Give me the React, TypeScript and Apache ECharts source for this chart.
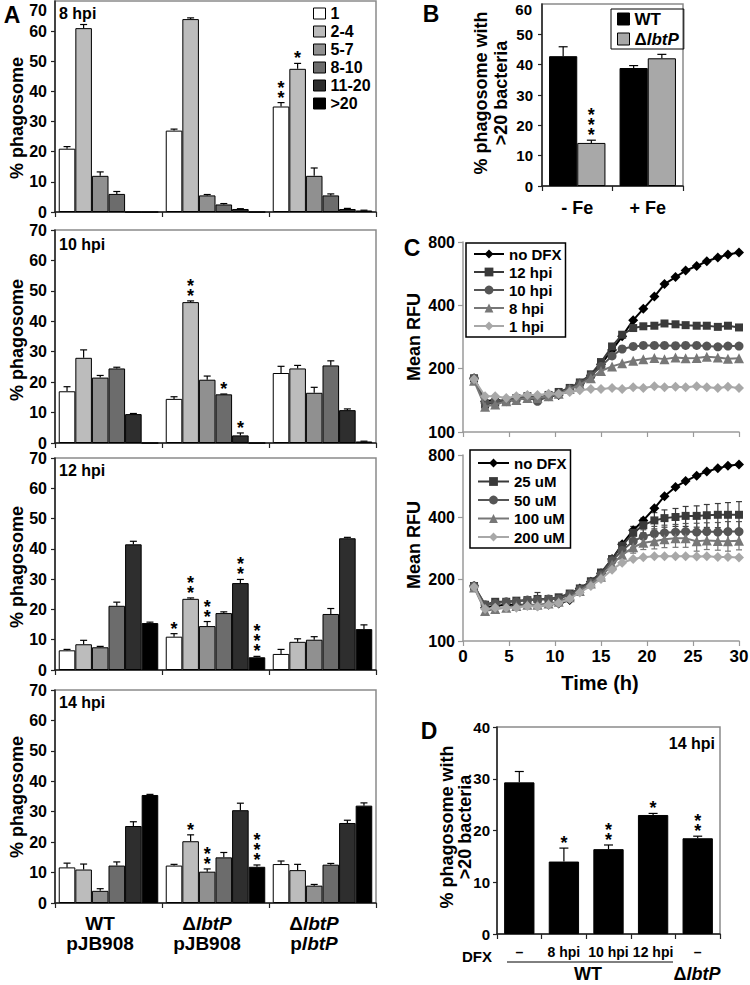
import React, { useEffect, useRef } from 'react';
import * as echarts from 'echarts';

const FONT = '"Liberation Sans", Arial, sans-serif';

// ---------- Panel A ----------
const strainGroups = ['WT pJB908', 'ΔlbtP pJB908', 'ΔlbtP plbtP'];
const strainLabels = ['{n|WT}\n{n|pJB908}', '{n|Δ}{i|lbtP}\n{n|pJB908}', '{n|Δ}{i|lbtP}\n{n|p}{i|lbtP}'];
const sizeBins = ['1', '2-4', '5-7', '8-10', '11-20', '>20'];
const binColors = ['#ffffff', '#bcbcbc', '#909090', '#6c6c6c', '#2e2e2e', '#000000'];
const hpiLabels = ['8 hpi', '10 hpi', '12 hpi', '14 hpi'];

// rows = strain groups, columns = size bins
const hpi8Values = [[21, 61, 12, 6, 0, 0], [27, 64, 5.5, 2.5, 1, 0], [35, 47.5, 12, 5.5, 1, 0.5]];
const hpi8Errors = [[0.7, 1.2, 1.3, 0.8, 0, 0], [0.5, 0.4, 0.3, 0.3, 0.1, 0], [1.3, 1.8, 2.6, 0.5, 0.2, 0.1]];
const hpi8Stars = [[0, 0, 0, 0, 0, 0], [0, 0, 0, 0, 0, 0], [2, 1, 0, 0, 0, 0]];

const hpi10Values = [[17, 28, 21.5, 24.5, 9.5, 0], [14.5, 46.3, 20.8, 16, 2.5, 0], [23, 24.5, 16.5, 25.5, 10.8, 0.5]];
const hpi10Errors = [[1.5, 2.6, 0.7, 0.4, 0.2, 0], [0.7, 0.4, 1.2, 0.1, 0.8, 0], [2.2, 1, 1.8, 1.5, 0.4, 0.1]];
const hpi10Stars = [[0, 0, 0, 0, 0, 0], [0, 2, 0, 1, 1, 0], [0, 0, 0, 0, 0, 0]];

const hpi12Values = [[6.5, 8.5, 7.5, 21.2, 41.5, 15.5], [11, 23.5, 14.5, 18.8, 28.7, 4.2], [5.3, 9.3, 10, 18.5, 43.5, 13.5]];
const hpi12Errors = [[0.3, 1.3, 0.3, 1.2, 1, 0.3], [1, 0.3, 1.5, 0.4, 1.2, 0.3], [1.5, 1, 1, 1.8, 0.3, 1.4]];
const hpi12Stars = [[0, 0, 0, 0, 0, 0], [1, 2, 2, 0, 2, 3], [0, 0, 0, 0, 0, 0]];

const hpi14Values = [[11.7, 11, 4, 12.3, 25.3, 35.5], [12.3, 20.3, 10.3, 15, 30.5, 11.9], [12.8, 10.8, 5.7, 12.6, 26.3, 32]];
const hpi14Errors = [[1.4, 1.8, 0.7, 1.2, 1.4, 0.2], [0.4, 2.1, 0.9, 1.6, 2.3, 0.6], [1, 1.9, 0.4, 0.4, 0.9, 0.9]];
const hpi14Stars = [[0, 0, 0, 0, 0, 0], [0, 1, 2, 0, 0, 3], [0, 0, 0, 0, 0, 0]];

const yTicksA = [0, 10, 20, 30, 40, 50, 60, 70];

// ---------- Panel B ----------
const feConditions = ['- Fe', '+ Fe'];
const bStrains = ['WT', 'ΔlbtP'];
const bWT = [42.8, 38.9];
const bWTErr = [3.1, 0.8];
const bMut = [14.2, 42.1];
const bMutErr = [0.9, 1.3];
const bMutStars = [3, 0];
const yTicksB = [0, 10, 20, 30, 40, 50, 60];

// ---------- Panel C ----------
const times = [1.2, 2.4, 3.5, 4.7, 5.8, 7.0, 8.1, 9.3, 10.4, 11.6, 12.7, 13.9, 15.0, 16.2, 17.3, 18.5, 19.6, 20.8, 21.9, 23.1, 24.2, 25.4, 26.5, 27.7, 28.8, 30.0];
const cTopNames = ['no DFX', '12 hpi', '10 hpi', '8 hpi', '1 hpi'];
const cTopNoDFX = [180, 140, 142, 140, 143, 145, 143, 148, 150, 158, 170, 185, 210, 245, 285, 340, 385, 440, 505, 545, 585, 615, 648, 675, 697, 713];
const cTop12 = [180, 135, 138, 140, 145, 148, 145, 150, 155, 162, 172, 188, 215, 255, 290, 312, 318, 320, 328, 325, 322, 320, 320, 316, 320, 314];
const cTop10 = [180, 138, 140, 142, 145, 147, 140, 148, 152, 160, 170, 185, 205, 230, 248, 255, 258, 258, 258, 257, 258, 258, 256, 254, 256, 256];
const cTop8 = [175, 132, 135, 140, 142, 145, 145, 148, 152, 160, 168, 180, 195, 205, 212, 218, 222, 225, 222, 226, 224, 225, 228, 226, 223, 224];
const cTop1 = [178, 148, 148, 145, 148, 150, 150, 152, 152, 155, 158, 160, 160, 162, 160, 163, 162, 165, 163, 164, 163, 165, 163, 162, 164, 162];

const cBotNames = ['no DFX', '25 uM', '50 uM', '100 uM', '200 uM'];
const cBotNoDFX = [185, 145, 148, 150, 150, 150, 148, 150, 152, 158, 180, 194, 213, 250, 295, 345, 385, 441, 505, 560, 598, 635, 665, 689, 710, 720];
const cBot25 = [185, 150, 155, 155, 157, 158, 160, 160, 163, 170, 180, 195, 215, 250, 290, 335, 365, 385, 395, 400, 405, 405, 408, 410, 410, 410];
const cBot50 = [185, 150, 152, 155, 155, 158, 158, 160, 160, 168, 178, 192, 210, 245, 275, 305, 322, 332, 335, 338, 340, 338, 340, 338, 340, 340];
const cBot100 = [182, 140, 143, 145, 148, 150, 150, 152, 155, 163, 175, 190, 205, 235, 262, 285, 300, 305, 312, 315, 315, 305, 308, 306, 305, 307];
const cBot200 = [183, 143, 145, 145, 145, 148, 147, 150, 153, 160, 172, 185, 200, 222, 240, 250, 255, 258, 258, 258, 258, 257, 258, 256, 256, 254];
const cErr25 = [0, 0, 0, 0, 0, 0, 12, 0, 0, 0, 0, 0, 0, 0, 0, 25, 30, 35, 38, 40, 45, 48, 52, 55, 60, 65];
const cErr50 = [0, 0, 0, 0, 0, 0, 0, 0, 0, 0, 0, 0, 0, 0, 0, 20, 25, 28, 30, 30, 32, 35, 35, 38, 40, 40];
const cErr100 = [0, 0, 0, 0, 0, 0, 0, 0, 0, 0, 0, 0, 0, 0, 0, 18, 22, 25, 28, 30, 30, 32, 30, 30, 32, 30];
const rfuTicks = [100, 200, 400, 800];

const lineColors = ['#000000', '#3a3a3a', '#555555', '#777777', '#a8a8a8'];
const lineSymbols = ['diamond', 'rect', 'circle', 'triangle', 'diamond'];
const lineSymbolSizes = [10, 8, 9, 10, 10];

// ---------- Panel D ----------
const dfxLabels = ['–', '8 hpi', '10 hpi', '12 hpi', '–'];
const dValues = [29.3, 14.0, 16.4, 23.0, 18.5];
const dErrors = [2.1, 2.6, 0.8, 0.3, 0.4];
const dStars = [0, 1, 2, 1, 2];

// ---------- helpers ----------
const STAR_FONT = 'bold 18px ' + FONT;

function errLine(x1: number, y1: number, x2: number, y2: number, color = '#000') {
  return { type: 'line', shape: { x1, y1, x2, y2 }, style: { stroke: color, lineWidth: 1.2 } };
}

function makeBarErr(nSeries: number, gap: number, cap: number) {
  return function (_params: any, api: any) {
    const g = api.value(0);
    const s = api.value(1);
    const v = api.value(2);
    const e = api.value(3);
    const n = api.value(4);
    const band = api.size([1, 0])[0];
    const usable = band * (1 - gap);
    const bw = usable / nSeries;
    const base = api.coord([g, v]);
    const x = base[0] - usable / 2 + (s + 0.5) * bw;
    const yTop = api.coord([g, v + e])[1];
    const children: any[] = [];
    if (e > 0) {
      children.push(errLine(x, base[1], x, yTop));
      children.push(errLine(x - cap, yTop, x + cap, yTop));
    }
    if (n > 0) {
      const stars = new Array(n).fill('*').join('\n');
      children.push({
        type: 'text',
        x,
        y: yTop,
        style: {
          text: stars,
          textAlign: 'center',
          textVerticalAlign: 'bottom',
          font: STAR_FONT,
          lineHeight: 10,
          fill: '#000',
        },
      });
    }
    return { type: 'group', children };
  };
}

function makeLineErr(color: string) {
  return function (_params: any, api: any) {
    const t = api.value(0);
    const v = api.value(1);
    const e = api.value(2);
    if (!(e > 0)) return { type: 'group', children: [] };
    const hi = api.coord([t, Math.log2((v + e) / 100)]);
    const lo = api.coord([t, Math.log2((v - e) / 100)]);
    return {
      type: 'group',
      children: [
        errLine(hi[0], hi[1], lo[0], lo[1], color),
        errLine(hi[0] - 3, hi[1], hi[0] + 3, hi[1], color),
        errLine(lo[0] - 3, lo[1], lo[0] + 3, lo[1], color),
      ],
    };
  };
}

function text(x: number, y: number, t: string, font: string, extra: any = {}) {
  return {
    type: 'text',
    x,
    y,
    rotation: extra.rotation || 0,
    style: {
      text: t,
      font,
      fill: '#000',
      textAlign: extra.align || 'center',
      textVerticalAlign: 'middle',
      rich: extra.rich,
    },
  };
}

const italicRich = (size: number) => ({
  n: { fontSize: size, fontWeight: 'bold', fontFamily: FONT, color: '#000' },
  i: { fontSize: size, fontWeight: 'bold', fontStyle: 'italic', fontFamily: FONT, color: '#000' },
});

function buildOption() {
  const grids: any[] = [];
  const xAxes: any[] = [];
  const yAxes: any[] = [];
  const series: any[] = [];
  const dark = '#222';

  const aGridRects = [
    { top: 1, height: 211 },
    { top: 230, height: 213 },
    { top: 458, height: 212 },
    { top: 690, height: 213 },
  ];
  const aSets = [
    { v: hpi8Values, e: hpi8Errors, s: hpi8Stars },
    { v: hpi10Values, e: hpi10Errors, s: hpi10Stars },
    { v: hpi12Values, e: hpi12Errors, s: hpi12Stars },
    { v: hpi14Values, e: hpi14Errors, s: hpi14Stars },
  ];

  const framed = { show: true, borderColor: '#8a8a8a', borderWidth: 1.5, backgroundColor: 'transparent' };

  aGridRects.forEach((r, p) => {
    grids.push({ left: 55, width: 321, top: r.top, height: r.height, outerBoundsMode: 'none', ...framed });
    xAxes.push({
      type: 'category',
      gridIndex: p,
      data: strainGroups,
      axisLine: { show: true, lineStyle: { color: dark, width: 1.5 } },
      axisTick: { show: true, length: 5, interval: 0, lineStyle: { color: dark, width: 1.2 } },
      axisLabel:
        p === 3
          ? {
              show: true,
              interval: 0,
              margin: 10,
              padding: [0, 17, 0, 0],
              lineHeight: 20,
              formatter: (_v: string, i: number) => strainLabels[i],
              rich: italicRich(19),
            }
          : { show: false },
      splitLine: { show: false },
    });
    yAxes.push({
      type: 'value',
      gridIndex: p,
      min: yTicksA[0],
      max: yTicksA[yTicksA.length - 1],
      interval: 10,
      axisLine: { show: true, lineStyle: { color: dark, width: 1.5 } },
      axisTick: { show: true, length: 4, lineStyle: { color: dark, width: 1.2 } },
      splitLine: { show: false },
      axisLabel: {
        fontSize: 16,
        fontWeight: 'bold',
        color: '#000',
        fontFamily: FONT,
        margin: 8,
        showMaxLabel: p !== 0,
      },
    });
    const set = aSets[p];
    sizeBins.forEach((bin, b) => {
      series.push({
        type: 'bar',
        name: bin,
        xAxisIndex: p,
        yAxisIndex: p,
        data: set.v.map((row) => row[b]),
        barGap: '0%',
        barCategoryGap: '7%',
        itemStyle: { color: binColors[b], borderColor: '#000', borderWidth: 1 },
        silent: true,
      });
    });
    const errData: number[][] = [];
    set.v.forEach((row, g) => row.forEach((val, b) => errData.push([g, b, val, set.e[g][b], set.s[g][b]])));
    series.push({
      type: 'custom',
      xAxisIndex: p,
      yAxisIndex: p,
      data: errData,
      encode: { x: 0, y: 2 },
      renderItem: makeBarErr(6, 0.07, 3.5),
      z: 5,
      silent: true,
      clip: false,
    });
  });

  // Panel B (index 4)
  grids.push({ left: 542, width: 141, top: 4, height: 182, outerBoundsMode: 'none', ...framed });
  xAxes.push({
    type: 'category',
    gridIndex: 4,
    data: feConditions,
    axisLine: { show: true, lineStyle: { color: dark, width: 1.5 } },
    axisTick: { show: true, length: 5, interval: 0, lineStyle: { color: dark, width: 1.2 } },
    axisLabel: { fontSize: 18, fontWeight: 'bold', color: '#000', fontFamily: FONT, margin: 13 },
  });
  yAxes.push({
    type: 'value',
    gridIndex: 4,
    min: yTicksB[0],
    max: yTicksB[yTicksB.length - 1],
    interval: 10,
    axisLine: { show: true, lineStyle: { color: dark, width: 1.5 } },
    axisTick: { show: true, length: 4, lineStyle: { color: dark, width: 1.2 } },
    splitLine: { show: false },
    axisLabel: { fontSize: 15, fontWeight: 'bold', color: '#000', fontFamily: FONT, margin: 9, showMaxLabel: false },
  });
  series.push({
    type: 'bar',
    name: bStrains[0],
    xAxisIndex: 4,
    yAxisIndex: 4,
    data: bWT,
    barGap: '0%',
    barCategoryGap: '20%',
    itemStyle: { color: '#000', borderColor: '#000', borderWidth: 1 },
    silent: true,
  });
  series.push({
    type: 'bar',
    name: bStrains[1],
    xAxisIndex: 4,
    yAxisIndex: 4,
    data: bMut,
    barGap: '0%',
    barCategoryGap: '20%',
    itemStyle: { color: '#a8a8a8', borderColor: '#000', borderWidth: 1 },
    silent: true,
  });
  const bErrData: number[][] = [];
  feConditions.forEach((_c, g) => {
    bErrData.push([g, 0, bWT[g], bWTErr[g], 0]);
    bErrData.push([g, 1, bMut[g], bMutErr[g], bMutStars[g]]);
  });
  series.push({
    type: 'custom',
    xAxisIndex: 4,
    yAxisIndex: 4,
    data: bErrData,
    encode: { x: 0, y: 2 },
    renderItem: makeBarErr(2, 0.2, 4.5),
    z: 5,
    silent: true,
    clip: false,
  });

  // Panel C (indices 5, 6)
  const gray = '#9a9a9a';
  const cRects = [
    { top: 242, height: 190 },
    { top: 455, height: 186 },
  ];
  cRects.forEach((r, k) => {
    const gi = 5 + k;
    grids.push({ left: 463, width: 276, top: r.top, height: r.height, outerBoundsMode: 'none', show: false });
    xAxes.push({
      type: 'value',
      gridIndex: gi,
      min: 0,
      max: 30,
      interval: 5,
      axisLine: { show: true, onZero: false, lineStyle: { color: gray, width: 1.5 } },
      axisTick: { show: true, length: 5, lineStyle: { color: gray, width: 1.2 } },
      splitLine: { show: false },
      axisLabel:
        k === 1
          ? { show: true, fontSize: 17, fontWeight: 'bold', color: '#000', fontFamily: FONT, margin: 7 }
          : { show: false },
    });
    yAxes.push({
      type: 'value',
      gridIndex: gi,
      min: 0,
      max: Math.log2(rfuTicks[rfuTicks.length - 1] / rfuTicks[0]),
      interval: 1,
      axisLine: { show: true, onZero: false, lineStyle: { color: gray, width: 1.5 } },
      axisTick: { show: true, length: 5, lineStyle: { color: gray, width: 1.2 } },
      splitLine: { show: false },
      axisLabel: {
        fontSize: 16,
        fontWeight: 'bold',
        color: '#000',
        fontFamily: FONT,
        margin: 8,
        formatter: (v: number) => String(Math.round(rfuTicks[0] * Math.pow(2, v))),
      },
    });
  });

  const toLog = (vals: number[]) => times.map((t, i) => [t, Math.log2(vals[i] / 100)]);
  const cTopData = [cTopNoDFX, cTop12, cTop10, cTop8, cTop1];
  const cBotData = [cBotNoDFX, cBot25, cBot50, cBot100, cBot200];
  const addLines = (names: string[], data: number[][], gi: number) => {
    names.forEach((name, i) => {
      series.push({
        type: 'line',
        name,
        xAxisIndex: gi,
        yAxisIndex: gi,
        data: toLog(data[i]),
        symbol: lineSymbols[i],
        symbolSize: lineSymbolSizes[i],
        showSymbol: true,
        lineStyle: { color: lineColors[i], width: 2 },
        itemStyle: { color: lineColors[i] },
        z: 3 + i * 0.1,
        silent: true,
      });
    });
  };
  addLines(cTopNames, cTopData, 5);
  addLines(cBotNames, cBotData, 6);
  const cErrs = [null, cErr25, cErr50, cErr100, null];
  cErrs.forEach((errs, i) => {
    if (!errs) return;
    series.push({
      type: 'custom',
      xAxisIndex: 6,
      yAxisIndex: 6,
      data: times.map((t, j) => [t, cBotData[i][j], errs[j]]),
      encode: { x: 0, y: 1 },
      renderItem: makeLineErr(lineColors[i]),
      z: 2,
      silent: true,
    });
  });

  // Panel D (index 7)
  grids.push({ left: 497, width: 223, top: 727, height: 207, outerBoundsMode: 'none', ...framed });
  xAxes.push({
    type: 'category',
    gridIndex: 7,
    data: dfxLabels.map((_l, i) => 'c' + i),
    axisLine: { show: true, lineStyle: { color: dark, width: 1.5 } },
    axisTick: { show: true, length: 5, interval: 0, lineStyle: { color: dark, width: 1.2 } },
    axisLabel: {
      interval: 0,
      fontSize: 14,
      fontWeight: 'bold',
      color: '#000',
      fontFamily: FONT,
      margin: 11,
      formatter: (_v: string, i: number) => dfxLabels[i],
    },
  });
  yAxes.push({
    type: 'value',
    gridIndex: 7,
    min: 0,
    max: 40,
    interval: 10,
    axisLine: { show: true, lineStyle: { color: dark, width: 1.5 } },
    axisTick: { show: true, length: 4, lineStyle: { color: dark, width: 1.2 } },
    splitLine: { show: false },
    axisLabel: { fontSize: 15, fontWeight: 'bold', color: '#000', fontFamily: FONT, margin: 7 },
  });
  series.push({
    type: 'bar',
    name: 'D',
    xAxisIndex: 7,
    yAxisIndex: 7,
    data: dValues,
    barCategoryGap: '32%',
    itemStyle: { color: '#000', borderColor: '#000', borderWidth: 1 },
    silent: true,
  });
  series.push({
    type: 'custom',
    xAxisIndex: 7,
    yAxisIndex: 7,
    data: dValues.map((v, i) => [i, 0, v, dErrors[i], dStars[i]]),
    encode: { x: 0, y: 2 },
    renderItem: makeBarErr(1, 0.32, 4.5),
    z: 5,
    silent: true,
    clip: false,
  });

  const legendText = (size: number) => ({
    fontSize: size,
    fontWeight: 'bold',
    color: '#000',
    fontFamily: FONT,
    lineHeight: size + 1,
  });

  const legends = [
    {
      data: sizeBins,
      orient: 'vertical',
      left: 313,
      top: 5,
      padding: 0,
      itemWidth: 12,
      itemHeight: 11,
      itemGap: 1,
      icon: 'rect',
      selectedMode: false,
      textStyle: legendText(16),
      itemStyle: { borderColor: '#000', borderWidth: 1 },
    },
    {
      data: bStrains,
      orient: 'vertical',
      left: 611,
      top: 9,
      padding: [1, 5, 1, 6],
      itemWidth: 12,
      itemHeight: 12,
      itemGap: 2,
      icon: 'rect',
      selectedMode: false,
      borderColor: '#000',
      borderWidth: 1,
      formatter: (name: string) => (name === 'ΔlbtP' ? '{n|Δ}{i|lbtP}' : '{n|' + name + '}'),
      textStyle: { ...legendText(17), rich: italicRich(17) },
      itemStyle: { borderColor: '#000', borderWidth: 1 },
    },
    {
      data: cTopNames,
      orient: 'vertical',
      left: 466,
      top: 243,
      padding: [3, 4, 3, 7],
      itemWidth: 30,
      itemHeight: 11,
      itemGap: 2,
      selectedMode: false,
      borderColor: '#000',
      borderWidth: 1.5,
      textStyle: legendText(15),
    },
    {
      data: cBotNames,
      orient: 'vertical',
      left: 470,
      top: 450,
      padding: [5, 4, 3, 7],
      itemWidth: 31,
      itemHeight: 11,
      itemGap: 2.5,
      selectedMode: false,
      borderColor: '#000',
      borderWidth: 1.5,
      textStyle: legendText(15),
    },
  ];

  const letterFont = 'bold 23px ' + FONT;
  const titleFont = 'bold 18px ' + FONT;
  const hpiFont = 'bold 16px ' + FONT;
  const rot = Math.PI / 2;
  const aTitleY = [118, 340, 567, 797];
  const aHpiY = [13, 244, 470, 702];

  const graphics: any[] = [
    text(12, 15, 'A', letterFont),
    text(431, 14, 'B', letterFont),
    text(412, 248, 'C', letterFont),
    text(429, 731, 'D', letterFont),
    text(47, 10, String(yTicksA[yTicksA.length - 1]), 'bold 16px ' + FONT, { align: 'right' }),
    text(532, 9, String(yTicksB[yTicksB.length - 1]), 'bold 15px ' + FONT, { align: 'right' }),
    text(481, 93, '% phagosome with', titleFont, { rotation: rot }),
    text(501, 93, '>20 bacteria', titleFont, { rotation: rot }),
    text(414, 337, 'Mean RFU', titleFont, { rotation: rot }),
    text(414, 545, 'Mean RFU', titleFont, { rotation: rot }),
    text(600, 683, 'Time (h)', 'bold 20px ' + FONT),
    text(447, 827, '% phagosome with', titleFont, { rotation: rot }),
    text(465, 827, '>20 bacteria', titleFont, { rotation: rot }),
    text(715, 743, '14 hpi', hpiFont, { align: 'right' }),
    text(477, 956, 'DFX', 'bold 15px ' + FONT),
    { type: 'line', shape: { x1: 507, y1: 962, x2: 673, y2: 962 }, style: { stroke: '#000', lineWidth: 1 } },
    text(588, 974, 'WT', 'bold 18px ' + FONT),
    text(697, 974, '{n|Δ}{i|lbtP}', 'bold 18px ' + FONT, { rich: italicRich(18) }),
  ];
  aTitleY.forEach((y) => graphics.push(text(17, y, '% phagosome', titleFont, { rotation: rot })));
  hpiLabels.forEach((h, i) => graphics.push(text(59, aHpiY[i], h, hpiFont, { align: 'left' })));

  return {
    animation: false,
    backgroundColor: '#ffffff',
    textStyle: { fontFamily: FONT },
    tooltip: { show: false },
    grid: grids,
    xAxis: xAxes,
    yAxis: yAxes,
    legend: legends,
    series,
    graphic: { elements: graphics },
  };
}

export default function App() {
  const ref = useRef<HTMLDivElement>(null);
  useEffect(() => {
    document.body.style.margin = '0';
    const chart = echarts.init(ref.current as HTMLDivElement, null, { renderer: 'svg' });
    chart.setOption(buildOption() as any);
    return () => {
      chart.dispose();
    };
  }, []);
  return <div ref={ref} style={{ width: 750, height: 985 }} />;
}
